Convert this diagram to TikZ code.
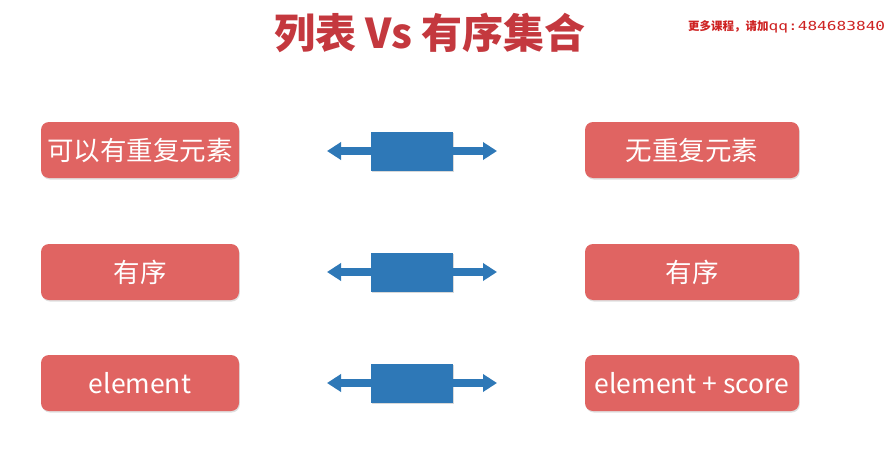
\documentclass[tikz,border=0pt]{standalone}
\usepackage{fontspec}
\newfontfamily\cjk{Noto Sans CJK SC}
\newfontfamily\wide[FakeStretch=1.3]{DejaVu Sans Mono}
\usetikzlibrary{arrows.meta,shadows}
\definecolor{boxred}{RGB}{224,100,98}
\definecolor{titlered}{RGB}{196,56,62}
\definecolor{markred}{RGB}{206,34,34}
\definecolor{arrowblue}{RGB}{46,120,183}
\tikzset{
  item/.style={draw=none, fill=boxred, rounded corners=8pt, text=white,
    minimum height=56pt, inner sep=0pt, font=\cjk\fontsize{26.5}{30}\selectfont,
    drop shadow={shadow xshift=0.8pt, shadow yshift=-1.5pt, opacity=0.25}},
  litem/.style={item, minimum width=198pt},
  ritem/.style={item, minimum width=214pt},
  hub/.style={fill=arrowblue, minimum width=82pt, minimum height=39pt, inner sep=0pt,
    drop shadow={shadow xshift=0.8pt, shadow yshift=-1.5pt, opacity=0.3}},
  spoke/.style={arrowblue, line width=8pt, -{Triangle[length=14pt,width=17pt]}},
}
\begin{document}
\begin{tikzpicture}[x=1pt,y=-1pt]
  \useasboundingbox (0,0) rectangle (886,455);
  \fill[white] (0,0) rectangle (886,455);
  \clip (0,0) rectangle (886,455);

  % heading and note
  \node[font=\cjk\bfseries\fontsize{41}{48}\selectfont, text=titlered] (title) at (430,33) {列表 Vs 有序集合};
  \node[text=markred, anchor=west, inner sep=0pt] (note) at (688,27)
    {\cjk\bfseries\fontsize{11.5}{14}\selectfont 更多课程，请加\wide\mdseries\fontsize{12.4}{14}\selectfont qq:484683840};

  % left column
  \node[litem] (l1) at (140,150) {可以有重复元素};
  \node[litem] (l2) at (140,272) {有序};
  \node[litem] (l3) at (140,383) {element};

  % right column
  \node[ritem] (r1) at (692,150) {无重复元素};
  \node[ritem] (r2) at (692,272) {有序};
  \node[ritem] (r3) at (692,383) {element + score};

  % double-headed connectors
  \foreach \i/\y in {1/151, 2/272, 3/383} {
    \node[hub] (m\i) at (412,\y) {};
    \coordinate (a\i) at (327,\y);
    \coordinate (b\i) at (497,\y);
    \draw[spoke] (m\i.west) -- (a\i);
    \draw[spoke] (m\i.east) -- (b\i);
  }
\end{tikzpicture}
\end{document}
